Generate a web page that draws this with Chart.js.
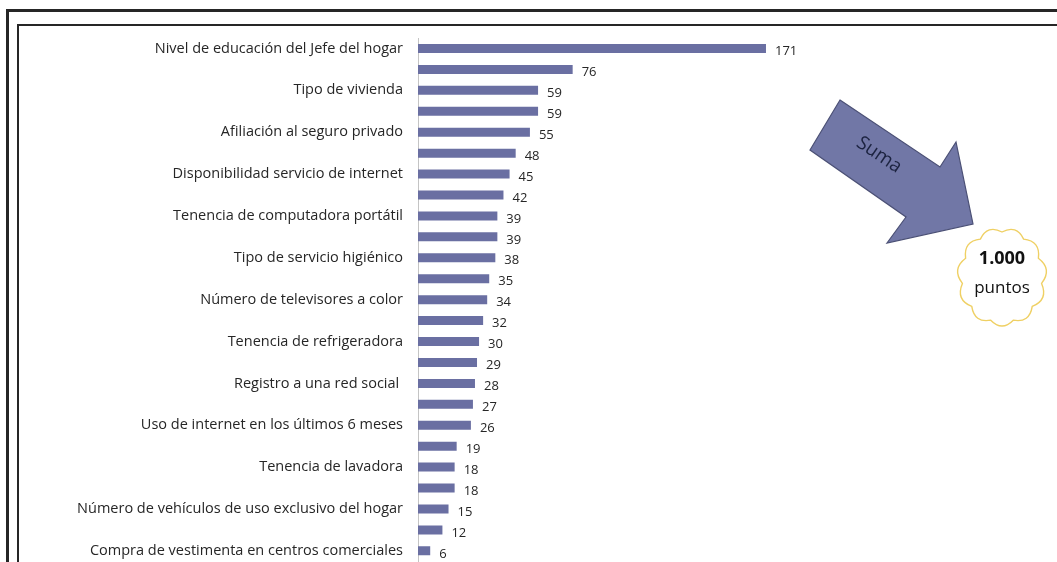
<!DOCTYPE html>
<html>
<head>
<meta charset="utf-8">
<script src="https://cdn.jsdelivr.net/npm/chart.js@4"></script>
<style>
  html, body { margin: 0; padding: 0; background: #fff; overflow: hidden; }
  #wrap { position: relative; width: 1057px; height: 562px; overflow: hidden; }
  .frame { position: absolute; right: -10px; bottom: -10px; border-color: #262626; border-style: solid; border-right: none; border-bottom: none; }
  #outer { left: 6px; top: 9px; border-width: 3px 0 0 3px; }
  #inner { left: 17px; top: 24px; border-width: 2px 0 0 2px; }
  canvas { position: absolute; left: 0; top: 0; }
</style>
</head>
<body>
<div id="wrap">
  <div class="frame" id="outer"></div>
  <div class="frame" id="inner"></div>
  <!-- taller than the window: the plot runs off the bottom edge -->
  <canvas id="pesosChart" width="1057" height="585"></canvas>
</div>
<script>
// Categories (only every second one carries a label on the axis)
const categories = [
  'Nivel de educación del Jefe del hogar', '',
  'Tipo de vivienda', '',
  'Afiliación al seguro privado', '',
  'Disponibilidad servicio de internet', '',
  'Tenencia de computadora portátil', '',
  'Tipo de servicio higiénico', '',
  'Número de televisores a color', '',
  'Tenencia de refrigeradora', '',
  'Registro a una red social ', '',
  'Uso de internet en los últimos 6 meses', '',
  'Tenencia de lavadora', '',
  'Número de vehículos de uso exclusivo del hogar', '',
  'Compra de vestimenta en centros comerciales'
];
const puntos = [171, 76, 59, 59, 55, 48, 45, 42, 39, 39, 38, 35, 34, 32, 30, 29, 28, 27, 26, 19, 18, 18, 15, 12, 6];
const xMax = 200;
const arrowText = 'Suma';
const cloudLines = ['1.000', 'puntos'];

// value next to each bar
const valueLabels = {
  id: 'valueLabels',
  afterDatasetsDraw(chart) {
    const ctx = chart.ctx;
    const meta = chart.getDatasetMeta(0);
    ctx.save();
    ctx.font = '13px "Open Sans", sans-serif';
    ctx.fillStyle = '#262626';
    ctx.textAlign = 'left';
    ctx.textBaseline = 'middle';
    meta.data.forEach((bar, i) => {
      ctx.fillText(String(puntos[i]), bar.x + 9, bar.y + 3);
    });
    ctx.restore();
  }
};

// "Suma" arrow and the 1.000 puntos cloud
const sumaCallout = {
  id: 'sumaCallout',
  afterDraw(chart) {
    const ctx = chart.ctx;
    ctx.save();
    // block arrow
    const pts = [[840, 100], [940, 167], [956, 142], [973, 224], [887, 243], [906, 217], [810, 150]];
    ctx.beginPath();
    pts.forEach((p, i) => (i ? ctx.lineTo(p[0], p[1]) : ctx.moveTo(p[0], p[1])));
    ctx.closePath();
    ctx.fillStyle = '#7177a6';
    ctx.fill();
    ctx.strokeStyle = '#4b5075';
    ctx.lineWidth = 1.2;
    ctx.stroke();

    ctx.translate(879, 155);
    ctx.rotate(34 * Math.PI / 180);
    ctx.font = '19px "Open Sans", sans-serif';
    ctx.fillStyle = '#1c2340';
    ctx.textAlign = 'center';
    ctx.textBaseline = 'middle';
    ctx.fillText(arrowText, 0, 0);
    ctx.setTransform(1, 0, 0, 1, 0, 0);

    // cloud: scalloped ellipse
    const cx = 1002, cy = 277, rx = 40, ry = 45, n = 11;
    ctx.beginPath();
    for (let k = 0; k <= n; k++) {
      const a = (k / n) * Math.PI * 2 - Math.PI / 2;
      const x = cx + rx * Math.cos(a), y = cy + ry * Math.sin(a);
      if (k === 0) { ctx.moveTo(x, y); continue; }
      const m = a - Math.PI / n;
      const qx = cx + rx * 1.28 * Math.cos(m), qy = cy + ry * 1.22 * Math.sin(m);
      ctx.quadraticCurveTo(qx, qy, x, y);
    }
    ctx.closePath();
    ctx.fillStyle = '#ffffff';
    ctx.fill();
    ctx.strokeStyle = '#efd064';
    ctx.lineWidth = 1.4;
    ctx.stroke();

    ctx.fillStyle = '#111';
    ctx.textAlign = 'center';
    ctx.textBaseline = 'middle';
    ctx.font = 'bold 18px "Open Sans", sans-serif';
    ctx.fillText(cloudLines[0], cx, 259);
    ctx.font = '17px "Open Sans", sans-serif';
    ctx.fillText(cloudLines[1], cx, 288);
    ctx.restore();
  }
};

const ctxPesos = document.getElementById('pesosChart').getContext('2d');
const pesosChart = new Chart(ctxPesos, {
  type: 'bar',
  data: {
    labels: categories,
    datasets: [{
      data: puntos,
      backgroundColor: '#6a6fa2',
      borderWidth: 0,
      barPercentage: 0.43,
      categoryPercentage: 1
    }]
  },
  options: {
    indexAxis: 'y',
    responsive: false,
    animation: false,
    layout: { padding: { top: 38, bottom: 0, right: 232, left: 0 } },
    plugins: {
      legend: { display: false },
      tooltip: { enabled: false }
    },
    scales: {
      x: {
        display: false,
        min: 0,
        max: xMax
      },
      y: {
        afterFit(scale) { scale.width = 418; },
        grid: { display: false, drawTicks: false },
        border: { display: true, color: '#c4c4c4', width: 1 },
        ticks: {
          autoSkip: false,
          padding: 15,
          color: '#262626',
          font: { family: '"Open Sans", sans-serif', size: 14.5 }
        }
      }
    }
  },
  plugins: [valueLabels, sumaCallout]
});
</script>
</body>
</html>
